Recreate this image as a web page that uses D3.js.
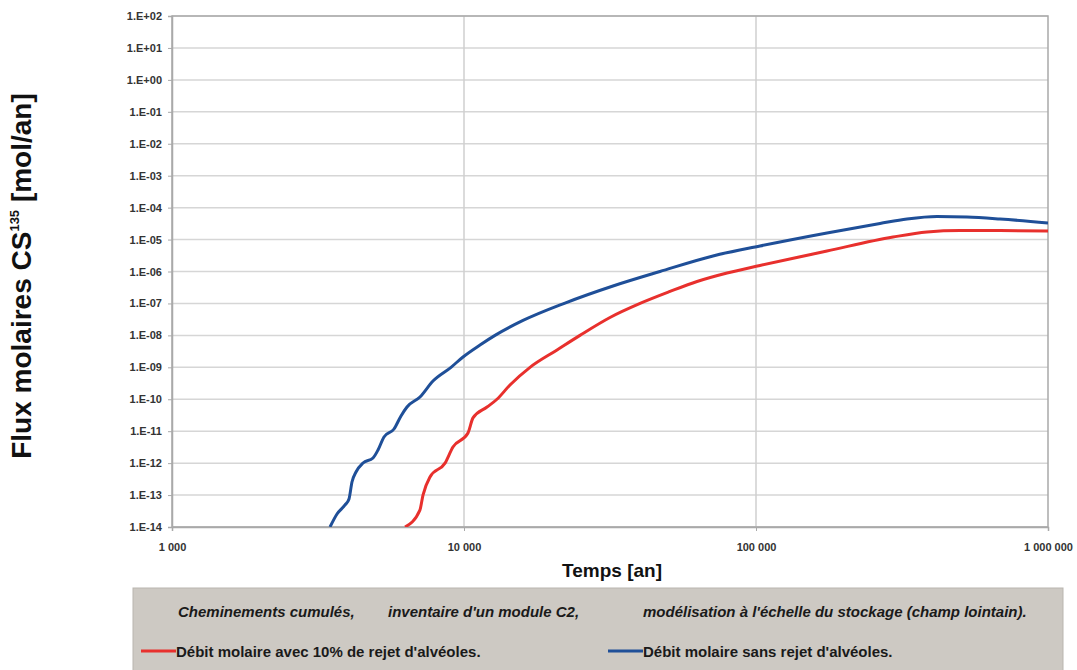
<!DOCTYPE html>
<html>
<head>
<meta charset="utf-8">
<script src="https://cdn.jsdelivr.net/npm/d3@7"></script>
<style>
  html, body { margin: 0; padding: 0; background: #ffffff; }
  svg { display: block; }
</style>
</head>
<body>
<svg id="chart" width="1077" height="670"></svg>
<script>
// ---- data ----
const xTickValues = [1000, 10000, 100000, 1000000];
const xTickLabels = ["1 000", "10 000", "100 000", "1 000 000"];
const yTickExponents = [2, 1, 0, -1, -2, -3, -4, -5, -6, -7, -8, -9, -10, -11, -12, -13, -14];

const redName = "Débit molaire avec 10% de rejet d'alvéoles.";
const redTimes = [6281, 7063, 7237, 7648, 8610, 9166, 10320, 10735, 11990, 12970, 14370, 16830, 20830, 24950, 31620, 40090, 50770, 62830, 79590, 103200, 175000, 294500, 385100, 499500, 684800, 1000000];
const redValues = [1e-14, 3.4e-14, 1e-13, 3.7e-13, 1e-12, 3.2e-12, 8.8e-12, 2.6e-11, 5.7e-11, 1e-10, 2.8e-10, 1e-9, 3.5e-9, 1e-8, 3.63e-8, 1e-7, 2.37e-7, 4.88e-7, 9.0e-7, 1.55e-6, 4.39e-6, 1.2e-5, 1.73e-5, 1.92e-5, 1.92e-5, 1.86e-5];

const blueName = "Débit molaire sans rejet d'alvéoles.";
const blueTimes = [3476, 3674, 3913, 4038, 4134, 4267, 4510, 4880, 5076, 5321, 5758, 6085, 6379, 7068, 7831, 9027, 9922, 11345, 12770, 15925, 22180, 32380, 46900, 71240, 103200, 175000, 265900, 328900, 416900, 528000, 684800, 1000000];
const blueValues = [1e-14, 2.56e-14, 4.9e-14, 7.55e-14, 2.57e-13, 5.28e-13, 1.01e-12, 1.45e-12, 2.58e-12, 6.6e-12, 1.17e-11, 3.0e-11, 5.73e-11, 1.18e-10, 3.73e-10, 1e-9, 2.11e-9, 5.0e-9, 1e-8, 2.93e-8, 1.03e-7, 3.52e-7, 1e-6, 3.06e-6, 6.3e-6, 1.61e-5, 3.19e-5, 4.41e-5, 5.28e-5, 5.09e-5, 4.41e-5, 3.3e-5];

const xTitle = "Temps [an]";
const yTitleMain = "Flux molaires CS";
const yTitleSup = "135";
const yTitleEnd = " [mol/an]";
const legendHeader = ["Cheminements cumulés,", "inventaire d'un module C2,", "modélisation à l'échelle du stockage (champ lointain)."];

// ---- layout ----
const plot = { left: 172, right: 1048, top: 16, bottom: 527 };
const svg = d3.select("#chart");
const font = "'Liberation Sans', Arial, Helvetica, sans-serif";

const x = d3.scaleLog().domain([1000, 1000000]).range([plot.left, plot.right]);
const y = d3.scaleLog().domain([1e-14, 1e2]).range([plot.bottom, plot.top]);

const fmtExp = k => "1.E" + (k >= 0 ? "+" : "-") + String(Math.abs(k)).padStart(2, "0");

// horizontal gridlines
svg.append("g").selectAll("line").data(yTickExponents).join("line")
  .attr("x1", plot.left).attr("x2", plot.right)
  .attr("y1", k => y(Math.pow(10, k))).attr("y2", k => y(Math.pow(10, k)))
  .attr("stroke", "#d6d6d6").attr("stroke-width", 1.5);

// vertical gridlines (inner majors)
svg.append("g").selectAll("line").data(xTickValues.slice(1, -1)).join("line")
  .attr("x1", d => x(d)).attr("x2", d => x(d))
  .attr("y1", plot.top).attr("y2", plot.bottom)
  .attr("stroke", "#cfcfcf").attr("stroke-width", 1.5);

// plot border
svg.append("rect")
  .attr("x", plot.left).attr("y", plot.top)
  .attr("width", plot.right - plot.left).attr("height", plot.bottom - plot.top)
  .attr("fill", "none").attr("stroke", "#a9a9a9").attr("stroke-width", 1.5);

// y axis
const yAxis = d3.axisLeft(y)
  .tickValues(yTickExponents.map(k => Math.pow(10, k)))
  .tickFormat(v => fmtExp(Math.round(Math.log10(v))))
  .tickSize(4).tickPadding(6);
const gy = svg.append("g").attr("transform", `translate(${plot.left},0)`).call(yAxis);
gy.select(".domain").attr("stroke", "#a9a9a9").attr("stroke-width", 1.5);
gy.selectAll(".tick line").attr("stroke", "#a9a9a9");
gy.selectAll(".tick text").attr("font-family", font).attr("font-size", 11)
  .attr("font-weight", "bold").attr("fill", "#333");

// x axis
const xAxis = d3.axisBottom(x)
  .tickValues(xTickValues)
  .tickFormat((d, i) => xTickLabels[i])
  .tickSize(4).tickPadding(12);
const gx = svg.append("g").attr("transform", `translate(0,${plot.bottom})`).call(xAxis);
gx.select(".domain").attr("stroke", "#a9a9a9").attr("stroke-width", 1.5);
gx.selectAll(".tick line").attr("stroke", "#a9a9a9");
gx.selectAll(".tick text").attr("font-family", font).attr("font-size", 11)
  .attr("font-weight", "bold").attr("fill", "#333");

// clip
svg.append("clipPath").attr("id", "clip").append("rect")
  .attr("x", plot.left).attr("y", plot.top)
  .attr("width", plot.right - plot.left).attr("height", plot.bottom - plot.top);

const line = d3.line().x(d => x(d[0])).y(d => y(d[1])).curve(d3.curveMonotoneX);
const redData = redTimes.map((t, i) => [t, redValues[i]]);
const blueData = blueTimes.map((t, i) => [t, blueValues[i]]);

const redColor = "#e8302d";
const blueColor = "#1f4f98";

svg.append("path").datum(redData).attr("clip-path", "url(#clip)")
  .attr("d", line).attr("fill", "none").attr("stroke", redColor).attr("stroke-width", 3);
svg.append("path").datum(blueData).attr("clip-path", "url(#clip)")
  .attr("d", line).attr("fill", "none").attr("stroke", blueColor).attr("stroke-width", 3);

// x title
svg.append("text").attr("x", 612).attr("y", 577)
  .attr("text-anchor", "middle").attr("font-family", font)
  .attr("font-size", 19).attr("font-weight", "bold").attr("fill", "#111")
  .text(xTitle);

// y title
const yt = svg.append("text")
  .attr("transform", "translate(31,276) rotate(-90)")
  .attr("text-anchor", "middle").attr("font-family", font)
  .attr("font-size", 28).attr("font-weight", "bold").attr("fill", "#111");
yt.append("tspan").text(yTitleMain);
yt.append("tspan").attr("font-size", 13).attr("dy", -12).text(yTitleSup);
yt.append("tspan").attr("dy", 12).text(yTitleEnd);

// legend box
svg.append("rect").attr("x", 133).attr("y", 588).attr("width", 930).attr("height", 90)
  .attr("fill", "#cdc9c3").attr("stroke", "#b9b5af").attr("stroke-width", 1);

const headerX = [178, 388, 643];
svg.append("g").selectAll("text").data(legendHeader).join("text")
  .attr("x", (d, i) => headerX[i]).attr("y", 617)
  .attr("font-family", font).attr("font-size", 15).attr("font-weight", "bold")
  .attr("font-style", "italic").attr("fill", "#1a1a1a")
  .text(d => d);

const legendItems = [
  { name: redName, color: redColor, x: 141 },
  { name: blueName, color: blueColor, x: 608 }
];
const li = svg.append("g").selectAll("g").data(legendItems).join("g");
li.append("line")
  .attr("x1", d => d.x).attr("x2", d => d.x + 35)
  .attr("y1", 651).attr("y2", 651)
  .attr("stroke", d => d.color).attr("stroke-width", 3);
li.append("text")
  .attr("x", d => d.x + 35).attr("y", 657)
  .attr("font-family", font).attr("font-size", 15).attr("font-weight", "bold")
  .attr("fill", "#1a1a1a")
  .text(d => d.name);
</script>
</body>
</html>
